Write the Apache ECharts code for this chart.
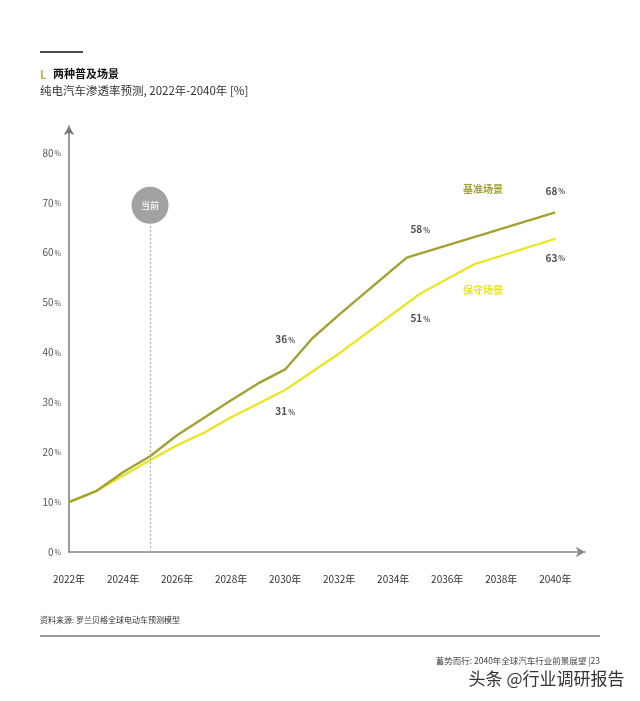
<!DOCTYPE html>
<html>
<head>
<meta charset="utf-8">
<script src="https://cdn.jsdelivr.net/npm/echarts@6/dist/echarts.min.js"></script>
<style>
html,body{margin:0;padding:0;background:#fff;}
#chart{width:640px;height:701px;}
</style>
</head>
<body>
<div id="chart"></div>
<script>
// ---- data ----
var baseYears  = [2022, 2023, 2024, 2025, 2026, 2027, 2028, 2029, 2030, 2031, 2032, 2034.5, 2040];
var baseValues = [10, 12.2, 16.0, 19.2, 23.4, 26.9, 30.4, 33.8, 36.6, 42.8, 47.6, 59.0, 68.1];
var consYears  = [2022, 2023, 2025, 2026, 2027, 2028, 2029, 2030, 2032, 2035, 2037, 2040];
var consValues = [10, 12.2, 18.4, 21.4, 23.9, 27.0, 29.7, 32.5, 39.8, 51.8, 57.7, 62.8];
var baseLabelYears  = [2030, 2035, 2040];
var baseLabelValues = [36, 58, 68];
var consLabelYears  = [2030, 2035, 2040];
var consLabelValues = [31, 51, 63];
var seriesNames = ['基准场景', '保守场景'];
var currentYear = 2025;
var currentText = '当前';
var yTicks = [0, 10, 20, 30, 40, 50, 60, 70, 80];
var xTicks = [2022, 2024, 2026, 2028, 2030, 2032, 2034, 2036, 2038, 2040];

var FONT = '"Noto Sans CJK SC", "Noto Sans", sans-serif';
var C_BASE = '#a2a132';
var C_CONS = '#e6e619';

function pairs(xs, ys){ return xs.map(function(x,i){ return [x, ys[i]]; }); }

var chart = echarts.init(document.getElementById('chart'), null, {renderer:'canvas'});

var pctRich = {
  n:{fontSize:10, fontWeight:'bold', color:'#222', fontFamily:FONT},
  p:{fontSize:7, fontWeight:'bold', color:'#222', fontFamily:FONT, padding:[1,0,0,1]}
};

var baseLabelOffsets = [-33, -33, -22];
var consLabelOffsets = [14, 21, 20];

var option = {
  backgroundColor:'#fff',
  animation:false,
  grid:{left:69, right:55, top:126, bottom:149, containLabel:false},
  xAxis:{
    type:'value', min:2022, max:2041.1, interval:2,
    offset:3,
    axisLine:{show:true, symbol:['none','arrow'], symbolSize:[8,9], lineStyle:{color:'#888', width:1.5}},
    axisTick:{show:false},
    splitLine:{show:false},
    axisLabel:{
      margin:19, color:'#333', fontSize:10, fontFamily:FONT,
      showMaxLabel:false,
      formatter:function(v){ return xTicks.indexOf(v) >= 0 ? v + '年' : ''; }
    }
  },
  yAxis:{
    type:'value', min:0, max:85.4, interval:10,
    axisLine:{show:true, symbol:['none','arrow'], symbolSize:[8,9], lineStyle:{color:'#777', width:1.5}},
    axisTick:{show:false},
    splitLine:{show:false},
    axisLabel:{
      margin:8, showMaxLabel:false,
      formatter:function(v){ return yTicks.indexOf(v) >= 0 ? '{n|' + v + '}{p|%}' : ''; },
      rich:{
        n:{fontSize:10, color:'#555', fontFamily:FONT},
        p:{fontSize:7, color:'#555', fontFamily:FONT, padding:[1,0,0,1]}
      }
    }
  },
  series:[
    {
      type:'scatter', name:'current',
      data:[[currentYear, 69.5]],
      symbolSize:37, z:5,
      itemStyle:{color:'#8b8b8b'},
      label:{show:true, position:'inside', formatter:currentText, color:'#fff', fontSize:9, fontWeight:'bold', fontFamily:FONT},
      markLine:{
        silent:true, symbol:['none','none'],
        lineStyle:{type:[2,2], color:'#aaa', width:1},
        label:{show:false},
        data:[[{coord:[currentYear, 0]}, {coord:[currentYear, 65.8]}]]
      }
    },
    {
      type:'line', name:seriesNames[1],
      data:pairs(consYears, consValues),
      showSymbol:false, symbol:'none',
      lineStyle:{color:C_CONS, width:2.2}, z:3
    },
    {
      type:'line', name:seriesNames[0],
      data:pairs(baseYears, baseValues),
      showSymbol:false, symbol:'none',
      lineStyle:{color:C_BASE, width:2.4}, z:4
    },
    {
      type:'scatter', name:'baseLabels', symbolSize:0,
      data:baseLabelYears.map(function(x,i){
        return {value:[x, baseLabelValues[i]], label:{offset:[0, baseLabelOffsets[i]]}};
      }),
      label:{show:true, position:'inside', rich:pctRich,
        formatter:function(p){ return '{n|' + p.value[1] + '}{p|%}'; }}
    },
    {
      type:'scatter', name:'consLabels', symbolSize:0,
      data:consLabelYears.map(function(x,i){
        return {value:[x, consLabelValues[i]], label:{offset:[0, consLabelOffsets[i]]}};
      }),
      label:{show:true, position:'inside', rich:pctRich,
        formatter:function(p){ return '{n|' + p.value[1] + '}{p|%}'; }}
    }
  ],
  graphic:[
    {type:'line', shape:{x1:40, y1:52, x2:83, y2:52}, style:{stroke:'#111', lineWidth:1.5}},
    {type:'text', left:40, top:69, style:{text:'L', fill:'#b5b32a', font:'bold 11px ' + FONT}},
    {type:'text', left:53, top:68, style:{text:'两种普及场景', fill:'#111', font:'bold 11px ' + FONT}},
    {type:'text', left:40, top:85, style:{text:'纯电汽车渗透率预测, 2022年-2040年 [%]', fill:'#333', font:'11.5px ' + FONT}},
    {type:'text', left:463, top:184, style:{text:seriesNames[0], fill:C_BASE, font:'bold 10px ' + FONT}},
    {type:'text', left:463, top:285, style:{text:seriesNames[1], fill:C_CONS, font:'bold 10px ' + FONT}},
    {type:'text', left:40, top:616, style:{text:'资料来源: 罗兰贝格全球电动车预测模型', fill:'#333', font:'8px ' + FONT}},
    {type:'line', shape:{x1:40, y1:636, x2:600, y2:636}, style:{stroke:'#999', lineWidth:2}},
    {type:'text', right:40, top:657, style:{text:'蓄势而行: 2040年全球汽车行业前景展望 |23', fill:'#444', font:'8.5px ' + FONT}},
    {type:'text', right:15, top:670, style:{text:'头条 @行业调研报告', fill:'#333', font:'17px ' + FONT, stroke:'#fff', lineWidth:1}}
  ]
};
chart.setOption(option);
</script>
</body>
</html>
